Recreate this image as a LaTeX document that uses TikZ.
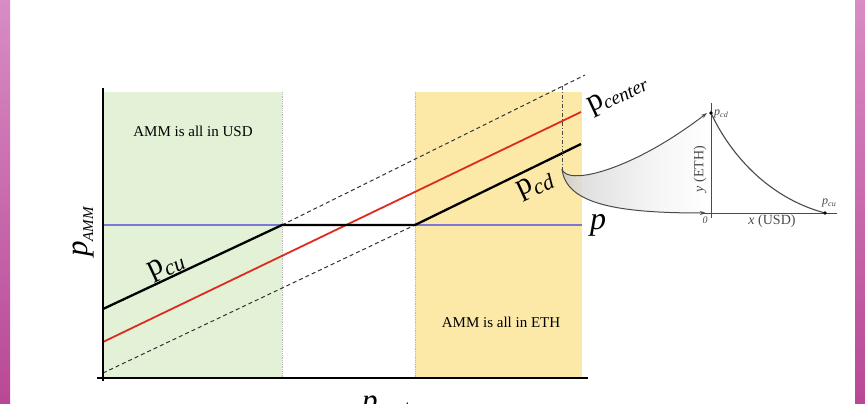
\documentclass[tikz,border=0pt]{standalone}
\usepackage{fontspec}
\setmainfont{Liberation Serif}
\usetikzlibrary{arrows.meta}
\definecolor{usdgreen}{HTML}{E3F2D7}
\definecolor{ethyellow}{HTML}{FCE9A8}
\definecolor{pline}{HTML}{7B78D8}
\definecolor{cline}{HTML}{DD2B1E}
\definecolor{frameA}{HTML}{D88CC4}
\definecolor{frameB}{HTML}{B84896}
\definecolor{inkgray}{HTML}{4A4A4A}
\pgfdeclarehorizontalshading{funnelshade}{100bp}{color(0bp)=(black!70); color(12bp)=(black!38); color(30bp)=(black!15); color(55bp)=(black!5); color(75bp)=(white); color(100bp)=(white)}
\newcommand\fs[1]{\fontsize{#1}{#1}\selectfont}
\tikzset{
  axisline/.style={line width=2.5pt, black},
  ammline/.style={line width=2.3pt, black, line join=round},
  extline/.style={line width=1pt, black!80, dash pattern=on 4pt off 3pt},
  regionedge/.style={line width=0.8pt, gray!55, densely dotted},
  insetax/.style={line width=1pt, inkgray},
  arrowc/.style={line width=1pt, inkgray, -{Stealth[length=6pt,width=4pt]}},
  biglbl/.style={inner sep=0pt, font=\fs{31}},
  boxtext/.style={inner sep=0pt, font=\fs{15}},
  smalllbl/.style={inner sep=0pt, text=inkgray}
}
\begin{document}
\begin{tikzpicture}[x=1pt,y=-1pt]
\useasboundingbox (0,0) rectangle (865,404);
\fill[white] (0,0) rectangle (865,404);
\shade[top color=frameA, bottom color=frameB] (0,0) rectangle (10,404);
\shade[top color=frameA, bottom color=frameB] (855,0) rectangle (865,404);

% key points
\coordinate (O) at (103,378);
\coordinate (cuL) at (103,309);
\coordinate (cuK) at (282,225);
\coordinate (cdK) at (415,225);
\coordinate (cdR) at (581,144);
\coordinate (dashLo) at (103,373);
\coordinate (dashHi) at (585,75);
\coordinate (redL) at (103,342);
\coordinate (redR) at (581,112);
\coordinate (pL) at (103,225);
\coordinate (pR) at (582,225);
\coordinate (vTop) at (562,86);
\coordinate (vBot) at (562,169);

% regions
\fill[usdgreen] (103,92) rectangle (282,378);
\fill[ethyellow] (415,92) rectangle (582,378);
\draw[regionedge] (282,92) -- (282,378);
\draw[regionedge] (415,92) -- (415,378);

\node[boxtext] (usd) at (193,131) {AMM is all in USD};
\node[boxtext] (eth) at (501,322) {AMM is all in ETH};

% lines
\draw[line width=1.8pt, pline] (pL) -- (pR);
\draw[extline] (dashLo) -- (cdK);
\draw[extline] (cuK) -- (dashHi);
\draw[line width=1.8pt, cline] (redL) -- (redR);
\draw[ammline] (cuL) -- (cuK) -- (cdK) -- (cdR);
\draw[line width=0.9pt, inkgray, dash pattern=on 4pt off 2pt on 1pt off 2pt] (vTop) -- (vBot);

% axes
\draw[axisline] (103,88) -- (103,381);
\draw[axisline] (97,378) -- (588,378);

% labels
\node[biglbl, rotate=90] (lamm) at (83,232) {\itshape p\raisebox{-0.2em}{\fs{15}AMM}};
\node[biglbl, rotate=25] (lcu) at (166,266) {p\raisebox{-0.2em}{\fs{22}\itshape cu}};
\node[biglbl, rotate=25] (lcd) at (535,185) {p\raisebox{-0.2em}{\fs{22}\itshape cd}};
\node[biglbl, rotate=25, anchor=base west] (lcenter) at (591,113) {p\raisebox{-0.1em}{\fs{19}\itshape center}};
\node[biglbl, font=\fs{32}\itshape] (lp) at (598,225) {p};
\node[biglbl, anchor=base west] (lx) at (362,410) {\itshape p\raisebox{-0.1em}{\fs{19}center}};

% funnel
\coordinate (iTop) at (707,113);
\coordinate (iBot) at (706,213);
\shade[shading=funnelshade, fill opacity=0.85]
  (vBot) .. controls (566,186) and (630,172) .. (iTop) -- (iBot) .. controls (620,213) and (566,205) .. (vBot);
\draw[arrowc] (vBot) .. controls (566,186) and (630,172) .. (iTop);
\draw[arrowc] (vBot) .. controls (566,205) and (620,213) .. (iBot);

% inset
\coordinate (ia) at (711,113);
\coordinate (ib) at (825,213);
\draw[insetax] (711,103) -- (711,218);
\draw[insetax] (703,213) -- (837,213);
\draw[line width=1.1pt, inkgray] (ia) .. controls (728,150) and (765,197) .. (ib);
\fill[black] (ia) circle (1.8pt);
\fill[black] (ib) circle (1.8pt);
\node[smalllbl, anchor=west, font=\fs{12}\itshape] (icd) at (714,114) {p\raisebox{-0.15em}{\fs{8}cd}};
\node[smalllbl, font=\fs{12}\itshape] (icu) at (829,203) {p\raisebox{-0.15em}{\fs{8}cu}};
\node[smalllbl, font=\fs{10}\itshape] (i0) at (705,220) {0};
\node[smalllbl, font=\fs{14}] (ixl) at (772,221) {\textit{x} (USD)};
\node[smalllbl, font=\fs{14}, rotate=90] (iyl) at (700,169) {\textit{y} (ETH)};
\end{tikzpicture}
\end{document}
